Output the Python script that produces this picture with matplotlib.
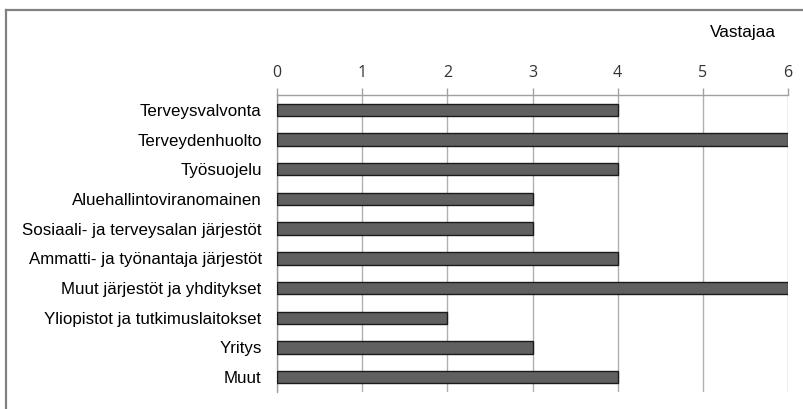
import matplotlib
matplotlib.use("Agg")
import matplotlib.pyplot as plt
from matplotlib.lines import Line2D

# Response counts per organisation type
categories = [
    "Terveysvalvonta",
    "Terveydenhuolto",
    "Työsuojelu",
    "Aluehallintoviranomainen",
    "Sosiaali- ja terveysalan järjestöt",
    "Ammatti- ja työnantaja järjestöt",
    "Muut järjestöt ja yhditykset",
    "Yliopistot ja tutkimuslaitokset",
    "Yritys",
    "Muut",
]
counts = [4, 6, 4, 3, 3, 4, 6, 2, 3, 4]
xticks = [0, 1, 2, 3, 4, 5, 6]

W, H = 804, 409
fig = plt.figure(figsize=(W / 100, H / 100), dpi=100)
ax = fig.add_axes([277 / W, 1 - 392 / H, (788 - 277) / W, (392 - 95) / H])

ypos = list(range(len(categories)))
ax.barh(ypos, counts, height=0.42, color="#606060", edgecolor="#1a1a1a",
        linewidth=1.0, zorder=3)

ax.set_xlim(0, 6)
ax.set_ylim(len(categories) - 0.5, -0.5)
ax.set_yticks(ypos)
ax.set_yticklabels(categories, fontsize=12.2, family="Liberation Sans")
ax.tick_params(axis="y", length=0, pad=11)

ax.xaxis.tick_top()
ax.set_xticks(xticks)
ax.set_xticklabels([str(t) for t in xticks], fontsize=11.5, family="Open Sans",
                   color="#333333")
ax.tick_params(axis="x", length=5, width=1, color="#a0a0a0", pad=5)

ax.grid(axis="x", color="#b0b0b0", linewidth=1, zorder=0)
for side in ("right", "bottom"):
    ax.spines[side].set_visible(False)
for side in ("top", "left"):
    ax.spines[side].set_color("#a0a0a0")
    ax.spines[side].set_linewidth(1)

fig.text(743 / W, 1 - 33 / H, "Vastajaa", ha="center", va="center",
         fontsize=12.4, family="Liberation Sans")

# outer frame (top and left edges)
fig.add_artist(Line2D([6 / W, 1], [1 - 10 / H, 1 - 10 / H], color="#808080",
                      linewidth=1.6, transform=fig.transFigure))
fig.add_artist(Line2D([6 / W, 6 / W], [0, 1 - 10 / H], color="#808080",
                      linewidth=1.6, transform=fig.transFigure))

fig.savefig("out.png", dpi=100)
